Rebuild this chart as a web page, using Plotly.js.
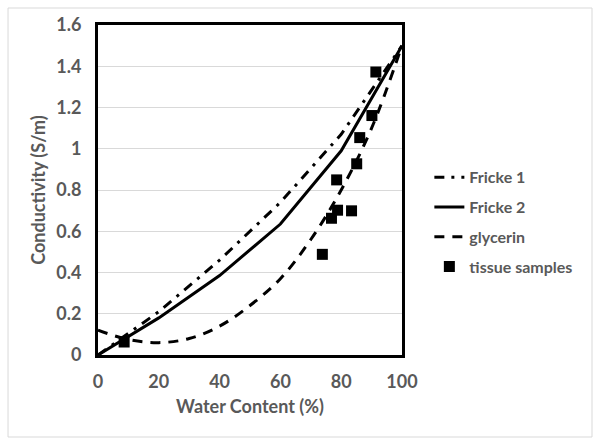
<!DOCTYPE html>
<html>
<head>
<meta charset="utf-8">
<script src="https://cdn.plot.ly/plotly-3.0.1.min.js"></script>
<style>
  body { margin: 0; background: #fff; }
  #chart { width: 601px; height: 445px; }
</style>
</head>
<body>
<div id="chart"></div>
<script>
// Model curves (water content in %, conductivity in S/m)
const frickeX = [0, 20, 40, 60, 80, 100];
const fricke1 = [0, 0.21, 0.46, 0.74, 1.07, 1.5];
const fricke2 = [0, 0.18, 0.385, 0.635, 0.99, 1.5];

const glycerinX = [0, 10, 20, 30, 40, 50, 60, 70, 80, 90, 100];
const glycerinY = [0.12, 0.075, 0.06, 0.08, 0.14, 0.24, 0.37, 0.56, 0.8, 1.1, 1.5];

// Measured tissue samples
const tissueX = [8.6, 73.8, 76.8, 78.5, 78.8, 83.4, 85.1, 86.1, 90.1, 91.4];
const tissueY = [0.063, 0.488, 0.663, 0.849, 0.702, 0.699, 0.927, 1.054, 1.161, 1.372];

const yTicks = [0, 0.2, 0.4, 0.6, 0.8, 1, 1.2, 1.4, 1.6];
const xTicks = [0, 20, 40, 60, 80, 100];

const textGray = '#595959';
const fontFam = 'Lato, "Open Sans", sans-serif';

// Traces
let fricke1Trace = {
    x: frickeX, y: fricke1, mode: 'lines', name: 'Fricke 1', legendgroup: 'a',
    line: {color: '#000', width: 3, dash: '10px,7px,3px,7px'}
};
let fricke2Trace = {
    x: frickeX, y: fricke2, mode: 'lines', name: 'Fricke 2', legendgroup: 'b',
    line: {color: '#000', width: 3}
};
let glycerinTrace = {
    x: glycerinX, y: glycerinY, mode: 'lines', name: 'glycerin', legendgroup: 'c',
    line: {color: '#000', width: 3, dash: '10px,8px', shape: 'spline'}
};
let tissueTrace = {
    x: tissueX, y: tissueY, mode: 'markers', name: 'tissue samples', legendgroup: 'd',
    marker: {symbol: 'square', size: 11, color: '#000'}
};

let layout = {
    width: 601,
    height: 445,
    margin: {l: 98, r: 199, t: 25, b: 90},
    paper_bgcolor: '#fff',
    plot_bgcolor: '#fff',
    font: {family: fontFam, color: textGray, size: 15, weight: 'bold'},
    showlegend: true,
    legend: {
        x: 1.09, y: 0.59, xanchor: 'left', yanchor: 'top',
        font: {family: fontFam, size: 16, color: textGray, weight: 'bold'},
        tracegroupgap: 6,
        itemwidth: 30
    },
    xaxis: {
        range: [0, 100],
        tickvals: xTicks,
        showgrid: false,
        zeroline: false,
        showline: true, mirror: true, linecolor: '#000', linewidth: 3,
        ticks: 'outside', ticklen: 8, tickcolor: 'rgba(0,0,0,0)',
        tickfont: {family: fontFam, size: 18, color: textGray, weight: 'bold'},
        title: {text: 'Water Content (%)', standoff: 10,
                font: {family: fontFam, size: 18, color: textGray, weight: 'bold'}}
    },
    yaxis: {
        range: [0, 1.6],
        tickvals: yTicks,
        showgrid: true, gridcolor: '#d9d9d9', gridwidth: 1,
        zeroline: false,
        showline: true, mirror: true, linecolor: '#000', linewidth: 3,
        ticks: 'outside', ticklen: 10, tickcolor: 'rgba(0,0,0,0)',
        tickfont: {family: fontFam, size: 18, color: textGray, weight: 'bold'},
        title: {text: 'Conductivity (S/m)', standoff: 6,
                font: {family: fontFam, size: 18, color: textGray, weight: 'bold'}}
    },
    shapes: [{
        type: 'rect', xref: 'paper', yref: 'paper', layer: 'below',
        x0: -0.296, x1: 1.625, y0: -0.2485, y1: 1.0515,
        line: {color: '#d9d9d9', width: 1}, fillcolor: 'rgba(0,0,0,0)'
    }]
};

Plotly.newPlot('chart', [fricke1Trace, fricke2Trace, glycerinTrace, tissueTrace], layout, {staticPlot: true});
</script>
</body>
</html>
